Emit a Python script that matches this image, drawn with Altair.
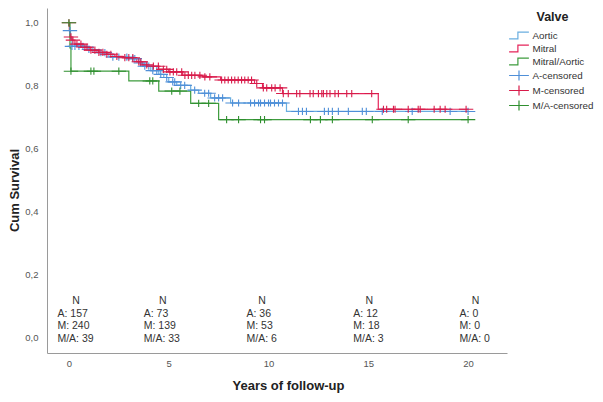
import altair as alt
import pandas as pd

# ---- Kaplan-Meier step curves ----
aortic_t = [0, 0.03, 0.08, 0.15, 0.95, 1.4, 2.0, 3.0, 3.5, 3.7, 4.1, 4.5, 4.75, 5.0, 5.4, 6.1, 6.5, 7.1, 8.1, 10.9, 20.0]
aortic_s = [1.0, 0.975, 0.95, 0.925, 0.915, 0.905, 0.891, 0.886, 0.872, 0.862, 0.848, 0.836, 0.826, 0.812, 0.801, 0.786, 0.776, 0.761, 0.745, 0.718, 0.718]

mitral_t = [0, 0.02, 0.05, 0.15, 0.3, 0.7, 1.05, 1.5, 1.9, 2.3, 2.7, 3.4, 3.7, 4.0, 4.5, 5.0, 5.7, 6.7, 7.6, 9.3, 9.7, 10.7, 15.5, 20.0]
mitral_s = [1.0, 0.975, 0.955, 0.945, 0.932, 0.922, 0.913, 0.906, 0.90, 0.893, 0.889, 0.876, 0.866, 0.862, 0.852, 0.844, 0.833, 0.828, 0.818, 0.807, 0.793, 0.775, 0.725, 0.725]

ma_t = [0, 0.05, 0.1, 3.0, 4.5, 6.1, 7.5, 20.0]
ma_s = [1.0, 0.92, 0.846, 0.815, 0.783, 0.744, 0.692, 0.692]

# ---- censoring times ----
aortic_c = [0.05, 0.15, 0.3, 0.5, 0.7, 1.0, 1.2, 1.6, 1.8, 2.2, 2.5, 2.9, 3.2, 3.3, 3.6, 3.8, 4.0, 4.2,
            4.4, 4.6, 4.9, 5.2, 5.3, 5.6, 5.8, 6.3, 6.8, 7.0, 7.3, 7.5, 7.7, 8.2, 8.5, 9.1, 9.3, 9.5,
            9.6, 9.8, 10.0, 10.1, 10.3, 10.5, 10.7, 11.5, 11.7, 11.9, 12.8, 13.0, 13.2, 13.5, 14.0,
            14.7, 14.9, 15.7, 17.2, 19.1, 20.0]
mitral_c = [0.0, 0.1, 0.2, 0.4, 0.6, 0.8, 0.9, 1.1, 1.3, 1.5, 1.7, 1.9, 2.1, 2.4, 2.8, 3.0, 3.2, 3.5,
            3.6, 3.9, 4.23, 4.48, 4.73, 4.9, 5.06, 5.23, 5.4, 5.65, 5.81, 5.98, 6.15, 6.31, 6.56, 6.81,
            7.06, 7.65, 7.81, 7.98, 8.15, 8.31, 8.48, 8.65, 8.81, 8.98, 9.15, 9.41, 9.74, 9.91, 10.16,
            10.33, 10.58, 10.74, 10.99, 11.41, 11.57, 12.08, 12.24, 12.5, 12.67, 12.75, 12.92, 13.08,
            13.33, 13.5, 13.92, 14.17, 15.17, 15.76, 15.92, 16.26, 16.34, 17.0, 17.5, 17.6, 18.3,
            18.6, 18.85, 19.9]
ma_c = [0.0, 0.1, 1.1, 1.25, 2.5, 4.05, 4.2, 5.15, 5.56, 6.5, 7.0, 7.9, 8.5, 9.6, 9.8, 12.1, 12.6,
        13.2, 15.2, 17.0, 20.0]

# ---- numbers at risk ----
years = [0, 5, 10, 15, 20]
n_a = [157, 73, 36, 12, 0]
n_m = [240, 139, 53, 18, 0]
n_ma = [39, 33, 6, 3, 0]

series_names = ["Aortic", "Mitral", "Mitral/Aortic", "A-censored", "M-censored", "M/A-censored"]
series_colors = ["#6aaee0", "#e5245a", "#3e9c3e", "#4f8fd8", "#d81b4a", "#2f8f2f"]

STEP = "M-1.8,0.6H-0.2V-0.6H1.8"
PLUS = "M-1.8,0H1.8M0,-0.9V0.9"

# styles (pixel offsets of the at-risk text blocks)
n_dx = [7, -6, -6.5, 1, 7.5]
block_dx = [-11.5, -25, -22, -15, -8.5]


def surv_at(ts, ss, t):
    v = ss[0]
    for ti, si in zip(ts, ss):
        if ti <= t:
            v = si
    return v


line_rows = []
for name, ts, ss in [("Aortic", aortic_t, aortic_s), ("Mitral", mitral_t, mitral_s),
                     ("Mitral/Aortic", ma_t, ma_s)]:
    for t, s in zip(ts, ss):
        line_rows.append({"t": t, "s": s, "series": name})
lines_df = pd.DataFrame(line_rows)

cens_rows = []
for name, cs, ts, ss in [("A-censored", aortic_c, aortic_t, aortic_s),
                         ("M-censored", mitral_c, mitral_t, mitral_s),
                         ("M/A-censored", ma_c, ma_t, ma_s)]:
    for c in cs:
        cens_rows.append({"t": c, "s": surv_at(ts, ss, c), "series": name})
cens_df = pd.DataFrame(cens_rows)

risk_df = pd.DataFrame({
    "year": years,
    "N": ["N"] * len(years),
    "block": [f"A: {a}\nM: {m}\nM/A: {ma}" for a, m, ma in zip(n_a, n_m, n_ma)],
})

x_scale = alt.Scale(domain=[-1.1, 21.95], nice=False, zero=False)
y_scale = alt.Scale(domain=[-0.05, 1.047], nice=False, zero=False)
color_scale = alt.Scale(domain=series_names, range=series_colors)
shape_scale = alt.Scale(domain=series_names, range=[STEP] * 3 + [PLUS] * 3)

x_axis = alt.Axis(values=years, title="Years of follow-up", ticks=False, grid=False,
                  labelFontSize=9.5, labelColor="#555555", domainColor="#9a9a9a",
                  labelPadding=5, titleFontSize=13, titleFontWeight="bold", titleColor="#222222",
                  titleX=241, titleY=32, titleBaseline="middle")
y_axis = alt.Axis(values=[0, 0.2, 0.4, 0.6, 0.8, 1.0], title="Cum Survival", ticks=False, grid=False,
                  labelExpr="replace(format(datum.value, '.1f'), '.', ',')",
                  labelFontSize=9.5, labelColor="#555555", domainColor="#9a9a9a",
                  labelPadding=9, titleFontSize=13, titleFontWeight="bold", titleColor="#222222",
                  titleX=-33, titleY=182, titleBaseline="middle")

legend_def = alt.Legend(title="Valve", orient="none", legendX=465.5, legendY=3,
                        titleFontSize=12.5, titleFontWeight="bold", titleColor="#222222",
                        titleAnchor="middle", titlePadding=5.5, labelFontSize=9.8,
                        labelColor="#333333", symbolSize=121, symbolStrokeWidth=1.2,
                        labelOffset=7, rowPadding=0)

lines = alt.Chart(lines_df).mark_line(interpolate="step-after", strokeWidth=1.2).encode(
    x=alt.X("t:Q", scale=x_scale, axis=x_axis),
    y=alt.Y("s:Q", scale=y_scale, axis=y_axis),
    color=alt.Color("series:N", scale=color_scale, legend=legend_def),
)

points = alt.Chart(cens_df).mark_point(filled=False, size=64, strokeWidth=1.1, opacity=1).encode(
    x=alt.X("t:Q", scale=x_scale),
    y=alt.Y("s:Q", scale=y_scale),
    color=alt.Color("series:N", scale=color_scale, legend=legend_def),
    shape=alt.Shape("series:N", scale=shape_scale, legend=legend_def),
)

layers = [lines, points]
for i, yr in enumerate(years):
    base = alt.Chart(risk_df).transform_filter(alt.datum.year == yr)
    layers.append(base.mark_text(align="center", baseline="middle", dx=n_dx[i], fontSize=10.5,
                                 color="#333333").encode(
        x=alt.X("year:Q", scale=x_scale), y=alt.value(292.5), text="N:N"))
    layers.append(base.mark_text(align="left", baseline="top", dx=block_dx[i], fontSize=10.5,
                                 lineBreak="\n", lineHeight=12.6, color="#333333").encode(
        x=alt.X("year:Q", scale=x_scale), y=alt.value(300.5), text="block:N"))

chart = alt.layer(*layers).properties(
    width=460, height=345,
    autosize=alt.AutoSizeParams(type="none"),
    padding={"left": 39, "top": 0, "right": 88, "bottom": 40},
).configure(font="Liberation Sans").configure_view(stroke=None)

chart.save("out.html", embed_options={"renderer": "svg", "actions": False})
